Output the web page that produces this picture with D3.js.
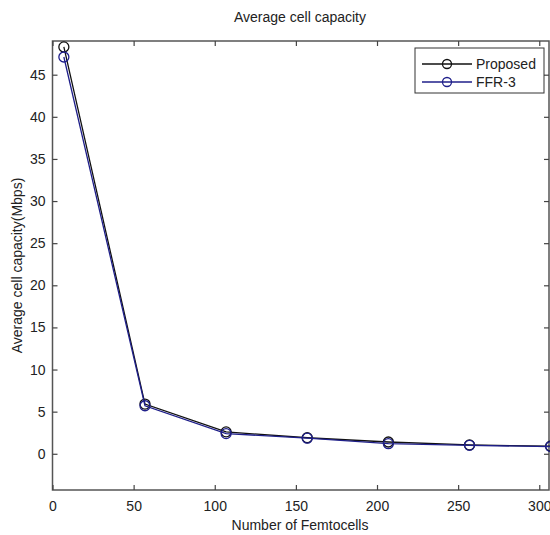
<!DOCTYPE html>
<html>
<head>
<meta charset="utf-8">
<script src="https://cdn.jsdelivr.net/npm/d3@7"></script>
<style>
    body { margin: 0; background: #fff; }
    text { font-family: "Liberation Sans Narrow", "Liberation Sans", Arial, sans-serif; fill: #222; }
</style>
</head>
<body>
<div id="divGrafico"></div>
<script>
// datos
var femtocells = [7, 57, 107, 157, 207, 257, 307];
var propuesto = [48.3, 5.9, 2.6, 1.9, 1.4, 1.05, 0.9];
var ffr3 = [47.1, 5.7, 2.4, 1.85, 1.2, 1.0, 0.85];
var xTicks = [0, 50, 100, 150, 200, 250, 300];
var yTicks = [0, 5, 10, 15, 20, 25, 30, 35, 40, 45];
var series = [
    { nombre: "Proposed", valores: propuesto, color: "#111111" },
    { nombre: "FFR-3", valores: ffr3, color: "#1f1f8a" }
];

function Grafico() {
    var canvas = d3.select("#divGrafico").html("").append("svg").attr("width", 550).attr("height", 535);
    var left = 52.5, right = 549, top = 41, bottom = 490;

    var xScale = d3.scaleLinear().domain([0, 306]).range([left, right]);
    var yScale = d3.scaleLinear().domain([-4.3, 49]).range([bottom, top]);

    // caja de ejes
    canvas.append("rect")
        .attr("x", left).attr("y", top)
        .attr("width", right - left).attr("height", bottom - top)
        .attr("fill", "#fff").attr("stroke", "#555").attr("stroke-width", 1.5);

    var xAxisGroup = canvas.append("g")
        .attr("transform", "translate(0," + bottom + ")")
        .call(d3.axisBottom(xScale).tickValues(xTicks).tickSizeInner(-5).tickSizeOuter(0).tickPadding(11));
    canvas.append("g")
        .attr("transform", "translate(0," + top + ")")
        .call(d3.axisTop(xScale).tickValues(xTicks).tickSizeInner(-5).tickSizeOuter(0).tickFormat(""));
    var yAxisGroup = canvas.append("g")
        .attr("transform", "translate(" + left + ",0)")
        .call(d3.axisLeft(yScale).tickValues(yTicks).tickSizeInner(-5).tickSizeOuter(0).tickPadding(7));
    canvas.append("g")
        .attr("transform", "translate(" + right + ",0)")
        .call(d3.axisRight(yScale).tickValues(yTicks).tickSizeInner(-5).tickSizeOuter(0).tickFormat(""));

    canvas.selectAll(".domain").remove();
    canvas.selectAll(".tick line").attr("stroke", "#444").attr("stroke-width", 1.2);
    canvas.selectAll(".tick text").attr("font-size", 14).attr("fill", "#222");

    var clip = canvas.append("clipPath").attr("id", "recorte").append("rect")
        .attr("x", left - 10).attr("y", top - 10).attr("width", right - left + 20).attr("height", bottom - top + 20);

    var linea = d3.line()
        .x(function (d, i) { return xScale(femtocells[i]); })
        .y(function (d) { return yScale(d); });

    var plot = canvas.append("g").attr("clip-path", "url(#recorte)");
    series.forEach(function (s) {
        plot.append("path")
            .attr("d", linea(s.valores))
            .attr("fill", "none")
            .attr("stroke", s.color)
            .attr("stroke-width", 1.3);
        plot.selectAll(".m" + s.nombre.replace(/\W/g, ""))
            .data(s.valores)
            .enter()
            .append("circle")
            .attr("cx", function (d, i) { return xScale(femtocells[i]); })
            .attr("cy", function (d) { return yScale(d); })
            .attr("r", 5)
            .attr("fill", "none")
            .attr("stroke", s.color)
            .attr("stroke-width", 1.3);
    });

    // leyenda
    var leyenda = canvas.append("g");
    leyenda.append("rect")
        .attr("x", 415).attr("y", 48).attr("width", 129).attr("height", 45)
        .attr("fill", "#fff").attr("stroke", "#333").attr("stroke-width", 1);
    series.forEach(function (s, i) {
        var yy = 64 + i * 18;
        leyenda.append("line").attr("x1", 422).attr("x2", 472).attr("y1", yy).attr("y2", yy)
            .attr("stroke", s.color).attr("stroke-width", 1.3);
        leyenda.append("circle").attr("cx", 447).attr("cy", yy).attr("r", 4.5)
            .attr("fill", "none").attr("stroke", s.color).attr("stroke-width", 1.3);
        leyenda.append("text").attr("x", 476).attr("y", yy).attr("dy", "0.35em")
            .attr("font-size", 14).text(s.nombre);
    });

    // titulos
    canvas.append("text").attr("x", 300).attr("y", 22).attr("text-anchor", "middle")
        .attr("font-size", 14).text("Average cell capacity");
    canvas.append("text").attr("x", 300).attr("y", 530).attr("text-anchor", "middle")
        .attr("font-size", 14).text("Number of Femtocells");
    canvas.append("text")
        .attr("transform", "translate(22," + ((top + bottom) / 2) + ") rotate(-90)")
        .attr("text-anchor", "middle")
        .attr("font-size", 14).text("Average cell capacity(Mbps)");
}
Grafico();
</script>
</body>
</html>
